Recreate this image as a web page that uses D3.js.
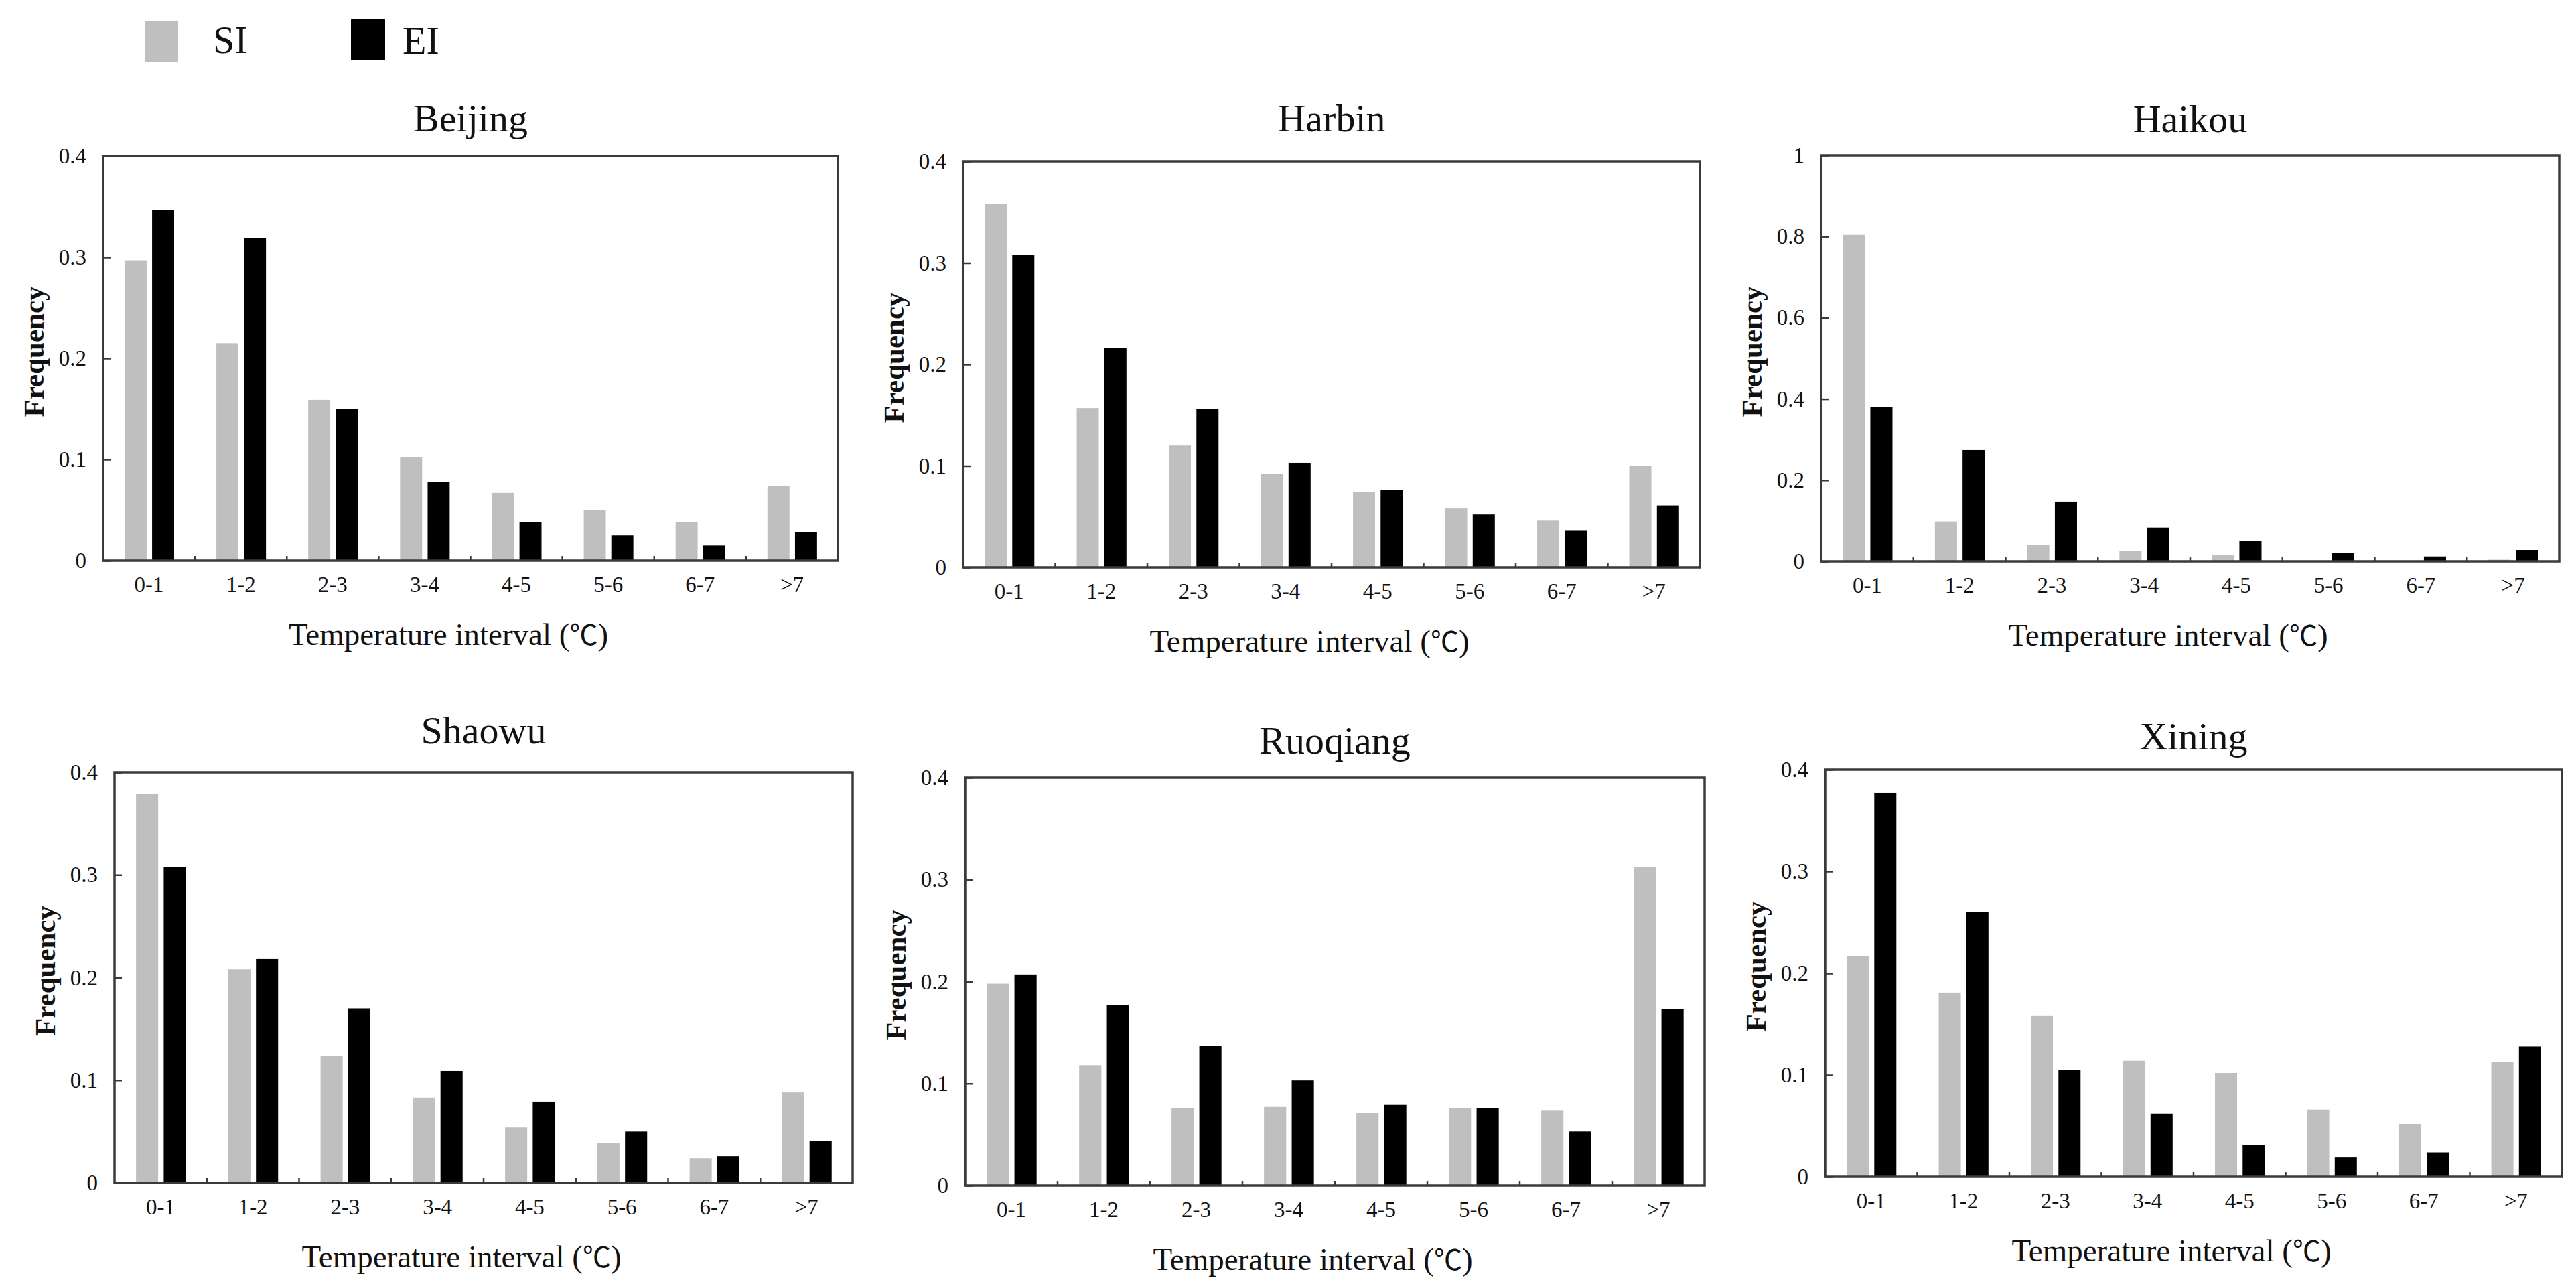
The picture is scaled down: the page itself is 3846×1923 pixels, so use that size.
<!DOCTYPE html>
<html>
<head>
<meta charset="utf-8">
<script src="https://cdn.jsdelivr.net/npm/d3@7"></script>
<style>
  html, body { margin: 0; padding: 0; background: #fff; }
  svg { display: block; }
  text { font-family: "Liberation Serif", "Times New Roman", serif; fill: #111; }
</style>
</head>
<body>
<svg id="chart" width="3846" height="1923"></svg>
<script>
// ---------------- DATA ----------------
const categories = ["0-1", "1-2", "2-3", "3-4", "4-5", "5-6", "6-7", ">7"];
const seriesNames = ["SI", "EI"];
const cities = ["Beijing", "Harbin", "Haikou", "Shaowu", "Ruoqiang", "Xining"];

const beijingSI  = [0.297, 0.215, 0.159, 0.102, 0.067, 0.050, 0.038, 0.074];
const beijingEI  = [0.347, 0.319, 0.150, 0.078, 0.038, 0.025, 0.015, 0.028];
const harbinSI   = [0.358, 0.157, 0.120, 0.092, 0.074, 0.058, 0.046, 0.100];
const harbinEI   = [0.308, 0.216, 0.156, 0.103, 0.076, 0.052, 0.036, 0.061];
const haikouSI   = [0.804, 0.098, 0.041, 0.025, 0.016, 0.001, 0.001, 0.004];
const haikouEI   = [0.380, 0.274, 0.147, 0.083, 0.050, 0.020, 0.012, 0.028];
const shaowuSI   = [0.379, 0.208, 0.124, 0.083, 0.054, 0.039, 0.024, 0.088];
const shaowuEI   = [0.308, 0.218, 0.170, 0.109, 0.079, 0.050, 0.026, 0.041];
const ruoqiangSI = [0.198, 0.118, 0.076, 0.077, 0.071, 0.076, 0.074, 0.312];
const ruoqiangEI = [0.207, 0.177, 0.137, 0.103, 0.079, 0.076, 0.053, 0.173];
const xiningSI   = [0.217, 0.181, 0.158, 0.114, 0.102, 0.066, 0.052, 0.113];
const xiningEI   = [0.377, 0.260, 0.105, 0.062, 0.031, 0.019, 0.024, 0.128];

const yTicksSmall = [0, 0.1, 0.2, 0.3, 0.4];
const yTickLabelsSmall = ["0", "0.1", "0.2", "0.3", "0.4"];
const yTicksLarge = [0, 0.2, 0.4, 0.6, 0.8, 1];
const yTickLabelsLarge = ["0", "0.2", "0.4", "0.6", "0.8", "1"];

const xAxisTitleMain = "Temperature interval (";
const xAxisTitleUnit = "\u2103";
const xAxisTitleEnd = ")";
const yAxisTitle = "Frequency";

// ---------------- LAYOUT (positions only) ----------------
const panelBoxes = [
  {l: 154,  t: 233,  r: 1251, b: 837},
  {l: 1438, t: 241,  r: 2538, b: 847},
  {l: 2719, t: 232,  r: 3821, b: 838},
  {l: 171,  t: 1153, r: 1273, b: 1766},
  {l: 1441, t: 1161, r: 2545, b: 1770},
  {l: 2725, t: 1149, r: 3825, b: 1757}
];
const titleBaselines = [196, 196, 197, 1110, 1125, 1119];

const seriesData = [
  [beijingSI, beijingEI],
  [harbinSI, harbinEI],
  [haikouSI, haikouEI],
  [shaowuSI, shaowuEI],
  [ruoqiangSI, ruoqiangEI],
  [xiningSI, xiningEI]
];
const yDomains = [0.4, 0.4, 1, 0.4, 0.4, 0.4];

const colors = {SI: "#bfbfbf", EI: "#000000"};
const frameColor = "#3a3a3a";

const svg = d3.select("#chart");

// ---------------- LEGEND ----------------
const legend = svg.append("g");
legend.append("rect").attr("x", 217).attr("y", 31).attr("width", 49).attr("height", 61).attr("fill", colors.SI);
legend.append("text").attr("x", 318).attr("y", 79).attr("font-size", 58).text(seriesNames[0]);
legend.append("rect").attr("x", 524).attr("y", 29).attr("width", 51).attr("height", 61).attr("fill", colors.EI);
legend.append("text").attr("x", 601).attr("y", 80).attr("font-size", 58).text(seriesNames[1]);

// ---------------- PANELS ----------------
cities.forEach((city, i) => {
  const box = panelBoxes[i];
  const W = box.r - box.l, H = box.b - box.t;
  const g = svg.append("g").attr("transform", `translate(${box.l},${box.t})`);

  const x0 = d3.scaleBand().domain(categories).range([0, W]).paddingInner(0).paddingOuter(0);
  const step = x0.step();
  const x1 = d3.scaleBand().domain(seriesNames).range([0.233 * step, 0.773 * step]).paddingInner(0.2).paddingOuter(0);
  const y = d3.scaleLinear().domain([0, yDomains[i]]).range([H, 0]);

  const ticks = yDomains[i] === 1 ? yTicksLarge : yTicksSmall;
  const tickLabels = yDomains[i] === 1 ? yTickLabelsLarge : yTickLabelsSmall;

  // bars
  const rows = categories.map((c, k) => ({cat: c, vals: seriesNames.map((s, j) => ({s, v: seriesData[i][j][k]}))}));
  const grp = g.selectAll("g.cat").data(rows).join("g")
    .attr("class", "cat")
    .attr("transform", d => `translate(${x0(d.cat)},0)`);
  grp.selectAll("rect").data(d => d.vals).join("rect")
    .attr("x", d => x1(d.s))
    .attr("width", x1.bandwidth())
    .attr("y", d => y(d.v))
    .attr("height", d => H - y(d.v))
    .attr("fill", d => colors[d.s]);

  // y axis (inward ticks)
  const yAxis = d3.axisLeft(y).tickValues(ticks).tickFormat((d, k) => tickLabels[k]).tickSize(-11).tickPadding(25);
  const ya = g.append("g").call(yAxis);
  ya.select(".domain").remove();
  ya.selectAll(".tick line").attr("stroke", frameColor).attr("stroke-width", 2.5);
  ya.selectAll(".tick text").attr("font-size", 33).attr("font-family", "Liberation Serif").attr("fill", "#111");

  // x axis category labels
  const xAxis = d3.axisBottom(x0).tickSize(0).tickPadding(24);
  const xa = g.append("g").attr("transform", `translate(0,${H})`).call(xAxis);
  xa.select(".domain").remove();
  xa.selectAll(".tick text").attr("font-size", 33).attr("font-family", "Liberation Serif").attr("fill", "#111").attr("dy", "0.71em");

  // x boundary ticks (inward)
  const bounds = categories.slice(1).map(c => x0(c));
  g.selectAll("line.xb").data(bounds).join("line")
    .attr("class", "xb")
    .attr("x1", d => d).attr("x2", d => d)
    .attr("y1", H).attr("y2", H - 7)
    .attr("stroke", frameColor).attr("stroke-width", 2.5);

  // frame
  g.append("rect").attr("x", 0).attr("y", 0).attr("width", W).attr("height", H)
    .attr("fill", "none").attr("stroke", frameColor).attr("stroke-width", 3.5);

  // title
  g.append("text").attr("x", W / 2).attr("y", titleBaselines[i] - box.t)
    .attr("text-anchor", "middle").attr("font-size", 58).text(city);

  // x axis title
  const xt = g.append("text").attr("x", W / 2 - 33).attr("y", H + 126)
    .attr("text-anchor", "middle").attr("font-size", 47);
  xt.append("tspan").text(xAxisTitleMain);
  xt.append("tspan").attr("font-family", "Noto Sans CJK SC").attr("font-size", 42).text(xAxisTitleUnit);
  xt.append("tspan").text(xAxisTitleEnd);

  // y axis title
  g.append("text")
    .attr("transform", `translate(${-104},${H / 2 - 10}) rotate(-90)`)
    .attr("text-anchor", "middle").attr("dominant-baseline", "central")
    .attr("font-size", 43).attr("font-weight", "bold").text(yAxisTitle);
});
</script>
</body>
</html>
